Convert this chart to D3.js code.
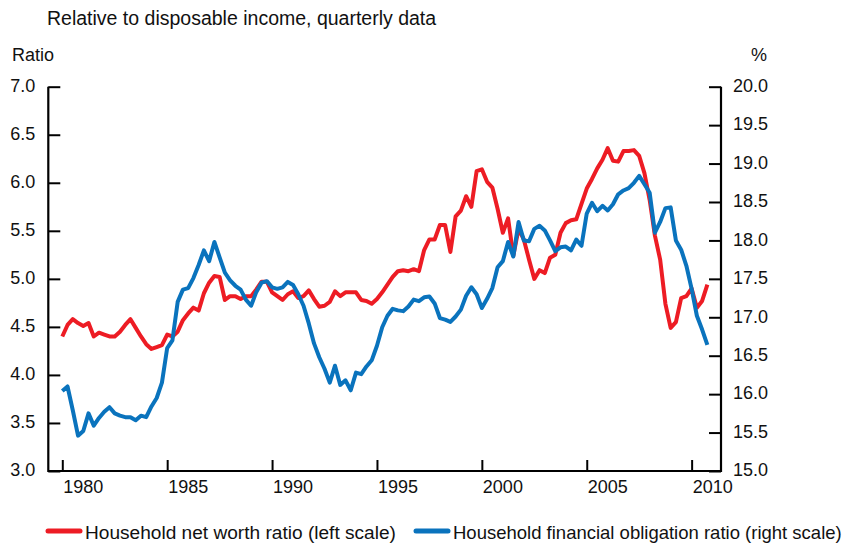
<!DOCTYPE html>
<html>
<head>
<meta charset="utf-8">
<script src="https://cdn.jsdelivr.net/npm/d3@7"></script>
<style>
  body { margin: 0; background: #fff; }
  svg text { font-family: "Liberation Sans", Arial, Helvetica, sans-serif; fill: #111; }
</style>
</head>
<body>
<div id="chart"></div>
<script>
// quarterly data, 1980:Q1 - 2010:Q4
const startYear = 1980;

// household net worth relative to disposable income (left scale, ratio)
const netWorth = [
  4.40, 4.52, 4.58, 4.54, 4.51, 4.54, 4.40, 4.44, 4.42, 4.40,
  4.40, 4.45, 4.52, 4.58, 4.49, 4.40, 4.32, 4.27, 4.29, 4.31,
  4.42, 4.40, 4.45, 4.57, 4.64, 4.70, 4.67, 4.85, 4.96, 5.03,
  5.02, 4.78, 4.82, 4.82, 4.79, 4.82, 4.82, 4.89, 4.97, 4.97,
  4.86, 4.82, 4.78, 4.84, 4.87, 4.80, 4.82, 4.88, 4.79, 4.71,
  4.72, 4.76, 4.87, 4.82, 4.86, 4.86, 4.86, 4.78, 4.77, 4.74,
  4.79, 4.86, 4.94, 5.02, 5.08, 5.09, 5.08, 5.10, 5.08, 5.30,
  5.41, 5.41, 5.56, 5.56, 5.28, 5.65, 5.71, 5.86, 5.75, 6.12,
  6.14, 6.01, 5.95, 5.73, 5.48, 5.63, 5.24, 5.52, 5.41, 5.20,
  5.00, 5.09, 5.06, 5.22, 5.25, 5.48, 5.58, 5.61, 5.62, 5.78,
  5.94, 6.04, 6.15, 6.24, 6.36, 6.23, 6.22, 6.33, 6.33, 6.34,
  6.28, 6.10, 5.82, 5.45, 5.20, 4.74, 4.49, 4.55, 4.80, 4.82,
  4.90, 4.70, 4.77, 4.94
];

// household financial obligation ratio (right scale, percent)
const obligation = [
  16.04, 16.10, 15.79, 15.46, 15.52, 15.75, 15.59, 15.69, 15.77, 15.83,
  15.75, 15.72, 15.70, 15.70, 15.66, 15.72, 15.70, 15.84, 15.95, 16.15,
  16.60, 16.70, 17.20, 17.36, 17.38, 17.51, 17.68, 17.87, 17.73, 17.98,
  17.78, 17.58, 17.48, 17.41, 17.36, 17.23, 17.15, 17.33, 17.45, 17.47,
  17.39, 17.37, 17.39, 17.46, 17.42, 17.30, 17.15, 16.92, 16.66, 16.48,
  16.33, 16.15, 16.37, 16.12, 16.18, 16.05, 16.28, 16.26, 16.36, 16.44,
  16.63, 16.87, 17.02, 17.11, 17.09, 17.08, 17.14, 17.23, 17.21, 17.26,
  17.27, 17.18, 16.99, 16.97, 16.94, 17.01, 17.10, 17.28, 17.39, 17.30,
  17.12, 17.24, 17.38, 17.65, 17.73, 17.98, 17.79, 18.24, 18.00, 17.99,
  18.15, 18.19, 18.13, 18.00, 17.86, 17.91, 17.92, 17.87, 18.01, 17.93,
  18.35, 18.49, 18.38, 18.45, 18.39, 18.47, 18.60, 18.65, 18.68, 18.75,
  18.84, 18.73, 18.62, 18.10, 18.24, 18.42, 18.43, 18.00, 17.88, 17.67,
  17.37, 17.02, 16.84, 16.64
];

const yearTicks = [1980, 1985, 1990, 1995, 2000, 2005, 2010];
const leftTicks = [3.0, 3.5, 4.0, 4.5, 5.0, 5.5, 6.0, 6.5, 7.0];
const rightTicks = [15.0, 15.5, 16.0, 16.5, 17.0, 17.5, 18.0, 18.5, 19.0, 19.5, 20.0];

const seriesNames = ['Household net worth ratio (left scale)', 'Household financial obligation ratio (right scale)'];
const colors = ['#ed1c24', '#0a73bd'];

const width = 842, height = 543;
const margin = { top: 86.7, right: 121, bottom: 72, left: 48.3 };
const innerW = width - margin.left - margin.right;
const innerH = height - margin.top - margin.bottom;

const svg = d3.select('#chart').append('svg')
  .attr('width', width)
  .attr('height', height);

const quarters = netWorth.map((d, i) => startYear + i / 4);

const x = d3.scaleLinear()
  .domain([1979.333, 2011.40])
  .range([0, innerW]);

const yLeft = d3.scaleLinear().domain([3, 7]).range([innerH, 0]);
const yRight = d3.scaleLinear().domain([15, 20]).range([innerH, 0]);

const g = svg.append('g')
  .attr('transform', 'translate(' + margin.left + ',' + margin.top + ')');

// lines
const lineLeft = d3.line()
  .x((d, i) => x(quarters[i]))
  .y(d => yLeft(d));

const lineRight = d3.line()
  .x((d, i) => x(quarters[i]))
  .y(d => yRight(d));

g.append('path')
  .datum(netWorth)
  .attr('fill', 'none')
  .attr('stroke', colors[0])
  .attr('stroke-width', 4)
  .attr('stroke-linejoin', 'round')
  .attr('d', lineLeft);

g.append('path')
  .datum(obligation)
  .attr('fill', 'none')
  .attr('stroke', colors[1])
  .attr('stroke-width', 4)
  .attr('stroke-linejoin', 'round')
  .attr('d', lineRight);

// left axis, ticks pointing inward
const leftAxis = g.append('g')
  .call(d3.axisRight(yLeft).tickValues(leftTicks).tickSize(12).tickFormat(''));
leftAxis.select('.domain').remove();
leftAxis.selectAll('line').attr('stroke', '#000').attr('stroke-width', 2);

g.selectAll('.lt')
  .data(leftTicks)
  .enter().append('text')
  .attr('class', 'lt')
  .attr('x', -13)
  .attr('y', d => yLeft(d) - 1)
  .attr('dy', '0.35em')
  .attr('text-anchor', 'end')
  .style('font-size', '18px')
  .text(d => d.toFixed(1));

// right axis, ticks pointing inward
const rightAxis = g.append('g')
  .attr('transform', 'translate(' + innerW + ',0)')
  .call(d3.axisLeft(yRight).tickValues(rightTicks).tickSize(12).tickFormat(''));
rightAxis.select('.domain').remove();
rightAxis.selectAll('line').attr('stroke', '#000').attr('stroke-width', 2);

g.selectAll('.rt')
  .data(rightTicks)
  .enter().append('text')
  .attr('class', 'rt')
  .attr('x', innerW + 12)
  .attr('y', d => yRight(d) - 1)
  .attr('dy', '0.35em')
  .attr('text-anchor', 'start')
  .style('font-size', '18px')
  .text(d => d.toFixed(1));

// bottom axis, ticks pointing up
const xAxis = g.append('g')
  .attr('transform', 'translate(0,' + innerH + ')')
  .call(d3.axisTop(x).tickValues(yearTicks).tickSize(11).tickFormat(''));
xAxis.select('.domain').remove();
xAxis.selectAll('line').attr('stroke', '#000').attr('stroke-width', 2);

g.selectAll('.xt')
  .data(yearTicks)
  .enter().append('text')
  .attr('class', 'xt')
  .attr('x', d => x(d) + 1)
  .attr('y', innerH + 22)
  .attr('text-anchor', 'start')
  .style('font-size', '18px')
  .text(d => d);

// frame: left, bottom, right
g.append('path')
  .attr('d', 'M0,0V' + innerH + 'H' + innerW + 'V0')
  .attr('fill', 'none')
  .attr('stroke', '#000')
  .attr('stroke-width', 2.2);

// titles
svg.append('text')
  .attr('x', 47)
  .attr('y', 25)
  .style('font-size', '19.5px')
  .text('Relative to disposable income, quarterly data');

svg.append('text')
  .attr('x', 12)
  .attr('y', 61)
  .style('font-size', '18px')
  .text('Ratio');

svg.append('text')
  .attr('x', 767)
  .attr('y', 61)
  .attr('text-anchor', 'end')
  .style('font-size', '18px')
  .text('%');

// legend
const legendX = [48, 416];
const legendSize = ['19.1px', '18.5px'];
const legend = svg.selectAll('.legend')
  .data(seriesNames)
  .enter().append('g')
  .attr('class', 'legend')
  .attr('transform', (d, i) => 'translate(' + legendX[i] + ',531)');

legend.append('line')
  .attr('x1', 0).attr('x2', 32)
  .attr('y1', 0).attr('y2', 0)
  .attr('stroke', (d, i) => colors[i])
  .attr('stroke-width', 5)
  .attr('stroke-linecap', 'round');

legend.append('text')
  .attr('x', 37)
  .attr('y', 7.5)
  .style('font-size', (d, i) => legendSize[i])
  .text(d => d);
</script>
</body>
</html>
